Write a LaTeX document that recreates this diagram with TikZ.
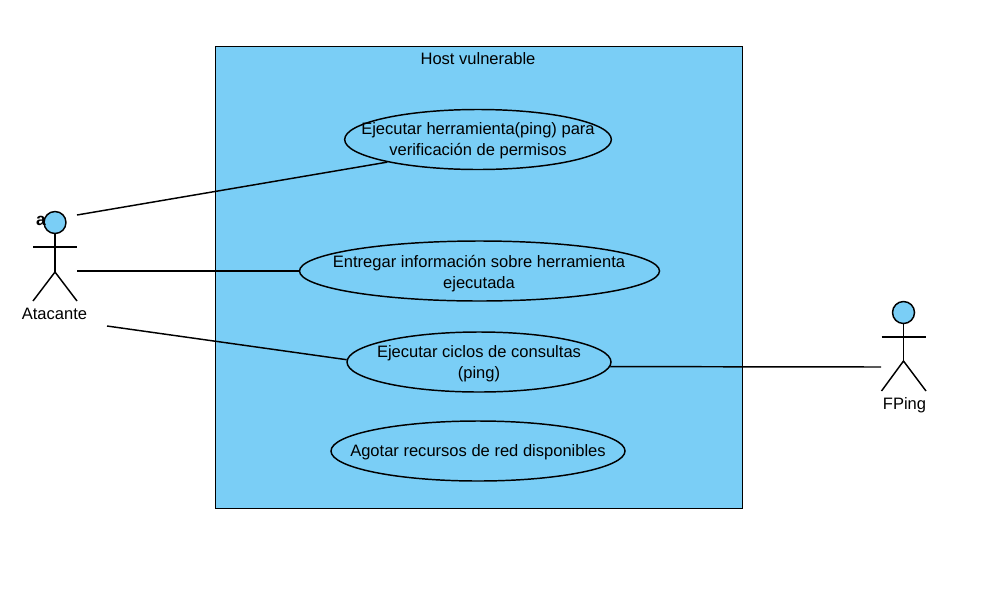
\documentclass[tikz,border=0pt]{standalone}
\usepackage{fontspec}
\setmainfont{Liberation Sans}
\usetikzlibrary{shapes.geometric}
\definecolor{fillblue}{HTML}{7ACEF6}
\tikzset{
  every node/.style={font=\fontsize{12.4}{16}\selectfont,text=black},
  uc/.style={ellipse,draw=black,line width=1.1pt,fill=fillblue,inner sep=0pt,minimum height=45pt},
  uclabel/.style={align=center,inner sep=0pt},
  link/.style={draw=black,line width=1.1pt},
  stick/.style={draw=black,line width=1.1pt},
  head/.style={circle,draw=black,line width=1.1pt,fill=fillblue,inner sep=0pt,minimum size=16.5pt},
  caption/.style={inner sep=0pt}
}
\begin{document}
\begin{tikzpicture}[x=0.75pt,y=-0.75pt]
\useasboundingbox (0,0) rectangle (1002,590);
\node[draw=black,line width=1.1pt,fill=fillblue,minimum width=395.25pt,minimum height=346.5pt,inner sep=0pt] (host) at (479,277.5) {};
\node[caption] (hostlabel) at (478,59) {Host vulnerable};

\node[uc,minimum width=200pt] (e1) at (478,139.5) {};
\node[uclabel] (t1) at (478,141) {Ejecutar herramienta(ping) para\\verificación de permisos};
\node[uc,minimum width=270pt] (e2) at (479.5,271) {};
\node[uclabel] (t2) at (479,273.5) {Entregar información sobre herramienta\\ejecutada};
\node[uc,minimum width=198pt] (e3) at (479,362) {};
\node[uclabel] (t3) at (479,363.5) {Ejecutar ciclos de consultas\\(ping)};
\node[uc,minimum width=220.5pt] (e4) at (478,451) {};
\node[uclabel] (t4) at (478,452) {Agotar recursos de red disponibles};

% Atacante
\node[head] (h1) at (55,222.5) {};
\coordinate (a1hip) at (55,272);
\coordinate (a1armL) at (33,247);
\coordinate (a1armR) at (77,247);
\coordinate (a1legL) at (33,301);
\coordinate (a1legR) at (77,301);
\draw[stick] (h1.south) -- (a1hip);
\draw[stick] (a1armL) -- (a1armR);
\draw[stick] (a1legL) -- (a1hip) -- (a1legR);
\node[caption] (a1label) at (54.5,314) {Atacante};
\node[inner sep=0pt,font=\fontsize{13}{14}\selectfont\bfseries] (a1mark) at (41,221) {a};

% FPing
\node[head] (h2) at (903.5,312.5) {};
\coordinate (a2hip) at (903.5,361);
\coordinate (a2armL) at (881.5,337);
\coordinate (a2armR) at (926,337);
\coordinate (a2legL) at (881.5,391);
\coordinate (a2legR) at (926,391);
\draw[stick] (h2.south) -- (a2hip);
\draw[stick] (a2armL) -- (a2armR);
\draw[stick] (a2legL) -- (a2hip) -- (a2legR);
\node[caption] (a2label) at (904.5,405) {FPing};

% connectors
\coordinate (c1) at (77,215);
\coordinate (c2) at (77,271);
\coordinate (c3) at (107,326);
\coordinate (c4) at (881,367);
\draw[link] (c1) -- (e1.194.5);
\draw[link] (c2) -- (e2.180);
\draw[link] (c3) -- (e3.179);
\draw[link] (e3.-2.7) -- (c4);
\end{tikzpicture}
\end{document}
